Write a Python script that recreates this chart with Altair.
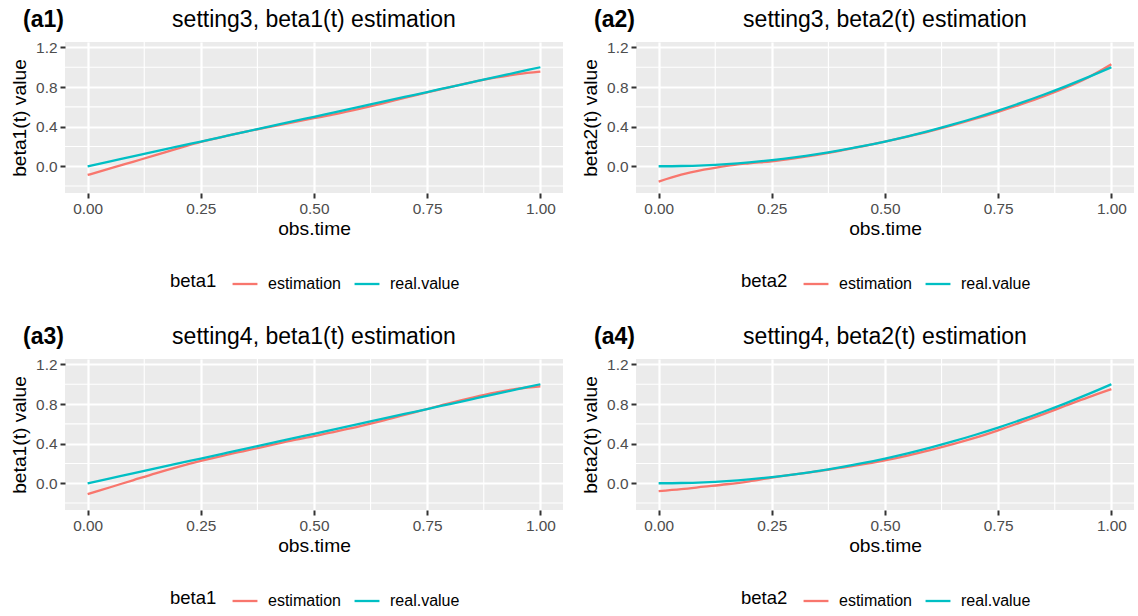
import altair as alt
import pandas as pd

# ---------------- data ----------------
obs_time = [0.00, 0.05, 0.10, 0.15, 0.20, 0.25, 0.30, 0.35, 0.40, 0.45, 0.50,
            0.55, 0.60, 0.65, 0.70, 0.75, 0.80, 0.85, 0.90, 0.95, 1.00]

# real curves
beta1_real = [0.00, 0.05, 0.10, 0.15, 0.20, 0.25, 0.30, 0.35, 0.40, 0.45, 0.50,
              0.55, 0.60, 0.65, 0.70, 0.75, 0.80, 0.85, 0.90, 0.95, 1.00]
beta2_real = [0.0, 0.0025, 0.01, 0.0225, 0.04, 0.0625, 0.09, 0.1225, 0.16, 0.2025, 0.25,
              0.3025, 0.36, 0.4225, 0.49, 0.5625, 0.64, 0.7225, 0.81, 0.9025, 1.0]

# estimations
s3_beta1_est = [-0.088, -0.022, 0.045, 0.112, 0.180, 0.245, 0.300, 0.350, 0.395, 0.440, 0.485,
                0.530, 0.580, 0.633, 0.690, 0.745, 0.800, 0.850, 0.895, 0.930, 0.955]
s3_beta2_est = [-0.155, -0.085, -0.035, 0.005, 0.030, 0.050, 0.080, 0.115, 0.155, 0.200, 0.248,
                0.300, 0.355, 0.415, 0.480, 0.550, 0.625, 0.705, 0.795, 0.900, 1.030]
s4_beta1_est = [-0.110, -0.040, 0.030, 0.100, 0.165, 0.225, 0.280, 0.330, 0.380, 0.430, 0.475,
                0.525, 0.575, 0.630, 0.690, 0.750, 0.810, 0.865, 0.915, 0.955, 0.980]
s4_beta2_est = [-0.080, -0.060, -0.035, -0.010, 0.020, 0.058, 0.090, 0.120, 0.155, 0.190, 0.232,
                0.280, 0.335, 0.395, 0.460, 0.535, 0.615, 0.698, 0.785, 0.870, 0.950]

series_names = ["estimation", "real.value"]
series_colors = ["#F8766D", "#00BFC4"]

x_ticks = [0.0, 0.25, 0.5, 0.75, 1.0]
x_minor = [0.125, 0.375, 0.625, 0.875]
y_ticks = [0.0, 0.4, 0.8, 1.2]
y_minor = [-0.2, 0.2, 0.6, 1.0]

FONT = "Liberation Sans"
W, H = 498, 151

xscale = alt.Scale(domain=[-0.05, 1.05], nice=False, zero=False)
yscale = alt.Scale(domain=[-0.27, 1.255], nice=False, zero=False)
xaxis = alt.Axis(values=x_ticks, format=".2f", title="obs.time", titlePadding=3)


def panel(tag, title, ylab, legend_title, est, real):
    n = len(obs_time)
    df = pd.DataFrame({
        "obs_time": obs_time + obs_time,
        "value": est + real,
        "series": [series_names[0]] * n + [series_names[1]] * n,
    })
    yaxis = alt.Axis(values=y_ticks, format=".1f", title=ylab, titlePadding=6)
    X = alt.X("obs_time:Q", scale=xscale, axis=xaxis)
    Y = alt.Y("value:Q", scale=yscale, axis=yaxis)
    minor_x = alt.Chart(pd.DataFrame({"obs_time": x_minor})).mark_rule(
        color="white", strokeWidth=1.1
    ).encode(x=X)
    minor_y = alt.Chart(pd.DataFrame({"value": y_minor})).mark_rule(
        color="white", strokeWidth=1.1
    ).encode(y=Y)
    lines = alt.Chart(df).mark_line(strokeWidth=2.3, interpolate="monotone").encode(
        x=X, y=Y,
        color=alt.Color("series:N", title=legend_title,
                        scale=alt.Scale(domain=series_names, range=series_colors),
                        legend=alt.Legend(orient="none", legendX=105, legendY=228,
                                          direction="horizontal", titleOrient="left")),
    )
    labels = pd.DataFrame({"tag": [tag], "title": [title]})
    tag_mark = alt.Chart(labels).mark_text(
        font=FONT, fontSize=23, fontWeight="bold", align="left",
        baseline="alphabetic", color="black"
    ).encode(text="tag:N", x=alt.value(-42), y=alt.value(-15))
    title_mark = alt.Chart(labels).mark_text(
        font=FONT, fontSize=23, fontWeight="normal", align="center",
        baseline="alphabetic", color="black"
    ).encode(text="title:N", x=alt.value(W / 2), y=alt.value(-15))
    return alt.layer(minor_x, minor_y, lines, tag_mark, title_mark).properties(
        width=W, height=H,
    )


p1 = panel("(a1)", "setting3, beta1(t) estimation", "beta1(t) value", "beta1", s3_beta1_est, beta1_real)
p2 = panel("(a2)", "setting3, beta2(t) estimation", "beta2(t) value", "beta2", s3_beta2_est, beta2_real)
p3 = panel("(a3)", "setting4, beta1(t) estimation", "beta1(t) value", "beta1", s4_beta1_est, beta1_real)
p4 = panel("(a4)", "setting4, beta2(t) estimation", "beta2(t) value", "beta2", s4_beta2_est, beta2_real)

chart = alt.concat(
    p1, p2, p3, p4, columns=2, spacing={"row": 166, "column": 73}, bounds="flush"
).resolve_scale(
    x="independent", y="independent", color="independent"
).resolve_legend(color="independent").properties(
    padding={"left": 10, "top": 9, "right": 0, "bottom": 0},
    background="white",
).configure_view(
    fill="#EBEBEB", stroke=None
).configure_axis(
    domain=False, grid=True, gridColor="white", gridWidth=2.2,
    tickColor="#333333", tickWidth=2, tickSize=5,
    labelFont=FONT, labelFontSize=15.4, labelColor="#4D4D4D", labelPadding=3,
    titleFont=FONT, titleFontSize=19.25, titleColor="black", titleFontWeight="normal",
).configure_legend(
    titleFont=FONT, titleFontSize=18.5, titleColor="black", titleFontWeight="normal",
    labelFont=FONT, labelFontSize=16, labelColor="black",
    symbolType="stroke", symbolStrokeWidth=2.3, symbolSize=620,
    labelOffset=9, columnPadding=8, titlePadding=14,
    titleAnchor="middle", titleBaseline="middle",
)

chart.save("out.html", embed_options={"renderer": "svg", "actions": False})
